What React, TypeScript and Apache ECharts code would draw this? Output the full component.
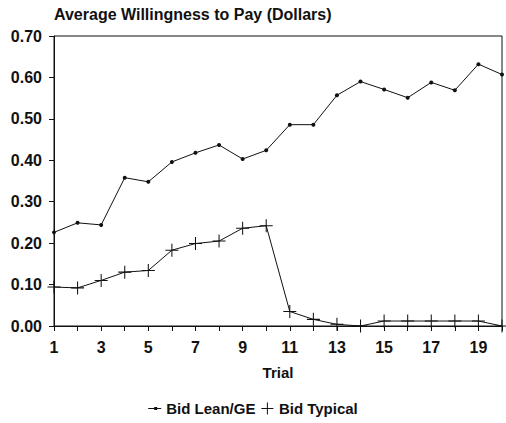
import React, { useEffect, useRef } from "react";
import * as echarts from "echarts";

const trials = ["1","2","3","4","5","6","7","8","9","10","11","12","13","14","15","16","17","18","19","20"];
const bidLeanGE = [0.226, 0.249, 0.244, 0.358, 0.348, 0.396, 0.418, 0.437, 0.403, 0.424, 0.486, 0.486, 0.557, 0.590, 0.571, 0.551, 0.588, 0.569, 0.632, 0.607];
const bidTypical = [0.094, 0.092, 0.110, 0.130, 0.134, 0.183, 0.199, 0.205, 0.236, 0.242, 0.035, 0.016, 0.004, 0.0, 0.012, 0.012, 0.012, 0.012, 0.012, 0.0];
const titleText = "Average Willingness to Pay (Dollars)";

const FONT = "'Liberation Sans', Arial, Helvetica, sans-serif";
const PLUS = "path://M4.6,0H5.4V4.6H10V5.4H5.4V10H4.6V5.4H0V4.6H4.6Z";
const LEAN_ICON = "path://M0,1H6V0H9V1H13V2H9V3H6V2H0Z";
const PLUS_ICON = "path://M5.5,0H6.5V5.5H12V6.5H6.5V12H5.5V6.5H0V5.5H5.5Z";

export default function App() {
  const ref = useRef<HTMLDivElement>(null);
  useEffect(() => {
    if (!ref.current) return;
    const chart = echarts.init(ref.current, null, { renderer: "svg" });
    chart.setOption({
      animation: false,
      backgroundColor: "#fff",
      title: {
        text: titleText,
        left: 49,
        top: 1,
        textStyle: { fontFamily: FONT, fontSize: 16, fontWeight: "bold", color: "#111" },
      },
      grid: {
        left: 54,
        right: 4,
        top: 36,
        bottom: 97,
        show: true,
        borderColor: "#111",
        borderWidth: 1,
        backgroundColor: "transparent",
      },
      legend: {
        bottom: 2,
        left: "center",
        itemGap: 6,
        itemWidth: 13,
        itemHeight: 12,
        textStyle: { fontFamily: FONT, fontSize: 15, fontWeight: "bold", color: "#111" },
        data: [
          { name: "Bid Lean/GE", icon: LEAN_ICON },
          { name: "Bid Typical", icon: PLUS_ICON },
        ],
      },
      xAxis: {
        type: "category",
        data: trials,
        boundaryGap: false,
        name: "Trial",
        nameLocation: "middle",
        nameGap: 39,
        nameTextStyle: { fontFamily: FONT, fontSize: 15, fontWeight: "bold", color: "#111" },
        axisLine: { lineStyle: { color: "#111", width: 1 } },
        axisTick: { show: true, interval: 0, length: 5, lineStyle: { color: "#111" } },
        axisLabel: {
          interval: 1,
          margin: 13,
          fontFamily: FONT,
          fontSize: 16,
          fontWeight: "bold",
          color: "#111",
        },
        splitLine: { show: false },
      },
      yAxis: {
        type: "value",
        min: 0,
        max: 0.7,
        interval: 0.1,
        axisLine: { show: true, lineStyle: { color: "#111", width: 1 } },
        axisTick: { show: true, length: 5, lineStyle: { color: "#111" } },
        axisLabel: {
          margin: 12,
          formatter: (v: number) => v.toFixed(2),
          fontFamily: FONT,
          fontSize: 16,
          fontWeight: "bold",
          color: "#111",
        },
        splitLine: { show: false },
      },
      series: [
        {
          name: "Bid Lean/GE",
          type: "line",
          data: bidLeanGE,
          symbol: "circle",
          symbolSize: 4,
          symbolKeepAspect: true,
          showAllSymbol: true,
          lineStyle: { color: "#111", width: 1 },
          itemStyle: { color: "#111" },
        },
        {
          name: "Bid Typical",
          type: "line",
          data: bidTypical,
          symbol: PLUS,
          symbolSize: 13,
          symbolKeepAspect: true,
          showAllSymbol: true,
          lineStyle: { color: "#111", width: 1 },
          itemStyle: { color: "#111" },
        },
      ],
    });
    return () => chart.dispose();
  }, []);
  return <div ref={ref} style={{ width: 506, height: 423, position: "absolute", left: 0, top: 0 }} />;
}
